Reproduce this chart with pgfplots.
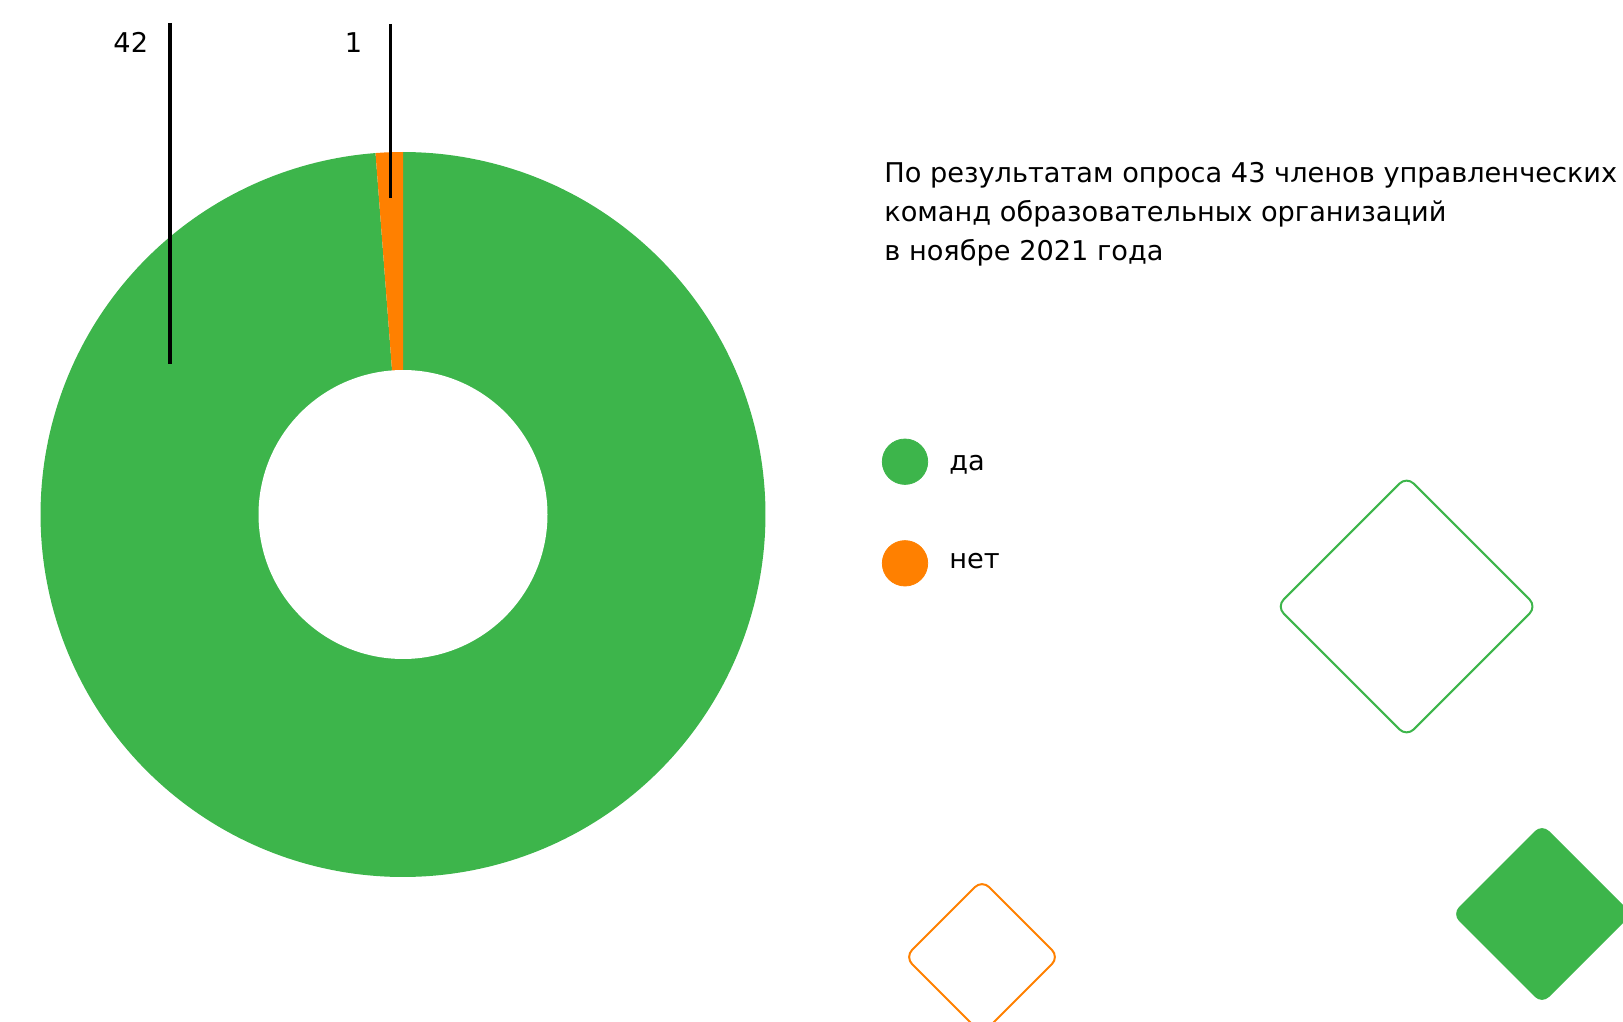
\documentclass[border=0pt]{standalone}
\usepackage{pgfplots}
\pgfplotsset{compat=1.18}
\usepackage{fontspec}
\setmainfont{DejaVu Sans}
\definecolor{dagreen}{HTML}{3DB54B}
\definecolor{netorange}{HTML}{FF8000}
\newcommand{\lbl}{\fontsize{13.6pt}{19.5pt}\selectfont}
% data: да = 42, нет = 1 (of 43 respondents)
\def\valYes{42}
\def\valNo{1}
% angular span of the "нет" slice as drawn in the picture (degrees)
\def\noSpan{4.35}
\begin{document}
\begin{tikzpicture}
\begin{axis}[
  width=811.5pt, height=511pt, scale only axis,
  xmin=0, xmax=1623, ymin=0, ymax=1022, y dir=reverse,
  hide axis, clip=true]
% donut: green slice (да)
\addplot[draw=none, fill=dagreen, domain=90+\noSpan:450, samples=300, variable=\t]
  ({403+362.5*cos(\t)},{514.5-362.5*sin(\t)}) -- (403,514.5) -- cycle;
% orange slice (нет)
\addplot[draw=none, fill=netorange, domain=90:90+\noSpan, samples=20, variable=\t]
  ({403+362.5*cos(\t)},{514.5-362.5*sin(\t)}) -- (403,514.5) -- cycle;
% hole
\addplot[draw=none, fill=white, domain=0:360, samples=200, variable=\t]
  ({403+144.5*cos(\t)},{514.5-144.5*sin(\t)}) -- cycle;
% leader lines
\addplot[black, line width=1.6pt] coordinates {(170,23) (170,364)};
\addplot[black, line width=1.6pt] coordinates {(390.5,24) (390.5,198)};
\node[anchor=base east, inner sep=0pt, font=\lbl] at (148.5,52.7) {\valYes};
\node[anchor=base east, inner sep=0pt, font=\lbl] at (362.5,52.7) {\valNo};
% title
\node[anchor=base west, inner sep=0pt, font=\lbl] at (884,182.7) {По результатам опроса 43 членов управленческих};
\node[anchor=base west, inner sep=0pt, font=\lbl] at (884,221.7) {команд образовательных организаций};
\node[anchor=base west, inner sep=0pt, font=\lbl] at (884,260.5) {в ноябре 2021 года};
% legend
\addplot[only marks, mark=*, mark size=11.35pt, mark options={fill=dagreen, draw=dagreen}] coordinates {(905,461.7)};
\addplot[only marks, mark=*, mark size=11.35pt, mark options={fill=netorange, draw=netorange}] coordinates {(905,563.3)};
\node[anchor=base west, inner sep=0pt, font=\lbl] at (949,470) {да};
\node[anchor=base west, inner sep=0pt, font=\lbl] at (949,568) {нет};
% decorative diamonds
\addplot[draw=dagreen, line width=1pt, rounded corners=5pt]
  coordinates {(1341.6,541.5) (1406.6,476.5) (1536.6,606.5) (1406.6,736.5) (1276.6,606.5) (1341.6,541.5)};
\addplot[draw=netorange, line width=1pt, rounded corners=5pt]
  coordinates {(943.5,918.5) (982,880) (1059,957) (982,1034) (905,957) (943.5,918.5)};
\addplot[draw=none, fill=dagreen, rounded corners=5pt]
  coordinates {(1497,869) (1542,824) (1632,914) (1542,1004) (1452,914) (1497,869)};
\end{axis}
\pgfresetboundingbox
\path[use as bounding box] (current axis.south west) rectangle (current axis.north east);
\end{tikzpicture}
\end{document}
